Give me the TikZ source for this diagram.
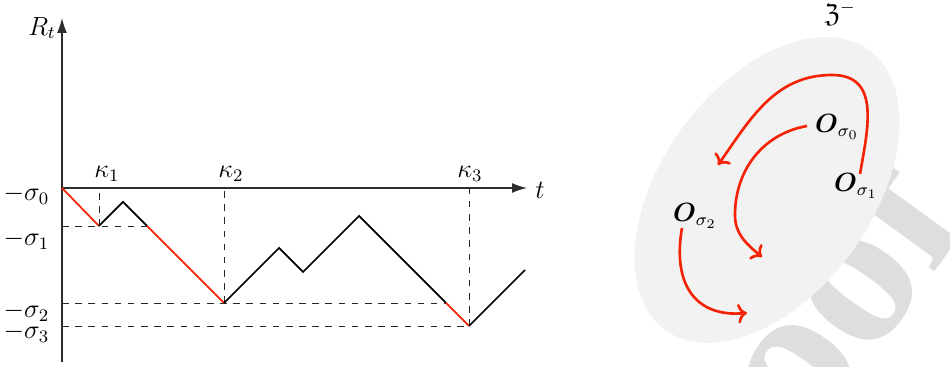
\documentclass[tikz,border=0pt]{standalone}
\usepackage{amsmath,amssymb}
\usepackage{fontspec}
\newfontfamily\markfont{Liberation Serif}
\usepackage{xcolor}
\definecolor{PathRed}{RGB}{245,35,5}
\definecolor{AxisGray}{RGB}{45,45,45}
\usepackage{tikz}
\usetikzlibrary{arrows.meta,positioning,calc}

\begin{document}
\begin{tikzpicture}[
    x=0.016cm,y=0.016cm,font=\large,
    axis/.style={semithick,AxisGray,-{Latex[length=2.4mm,width=1.6mm]}},
    walk/.style={thick,black},
    drop/.style={thick,PathRed},
    guide/.style={thin,dashed,black!85},
    swirl/.style={very thick,PathRed,->},
  ]
    \clip (0,0) rectangle (950,367);
    \node[rotate=54,anchor=base west,text=black!13,font=\markfont\bfseries\fontsize{96}{96}\selectfont] (mark) at (675,-263) {Proof};
    \fill[black!5,rotate around={54:(767,177)}] (767,177) ellipse [x radius=173,y radius=105];

    \coordinate (O) at (62,179);
    \coordinate (ytop) at (62,349);
    \coordinate (ybot) at (62,5);
    \coordinate (xend) at (527,179);
    \coordinate (k1) at (99,141);
    \coordinate (p1) at (123,165);
    \coordinate (c1) at (147,141);
    \coordinate (k2) at (224,64);
    \coordinate (p2) at (279,119);
    \coordinate (v2) at (303,95);
    \coordinate (p3) at (359,151);
    \coordinate (c3) at (446,64);
    \coordinate (k3) at (469,41);
    \coordinate (tail) at (525,97);

    \draw[guide] (k1) -- (k1 |- O);
    \draw[guide] (O |- k1) -- (c1);
    \draw[guide] (k2) -- (k2 |- O);
    \draw[guide] (O |- k2) -- (c3);
    \draw[guide] (k3) -- (k3 |- O);
    \draw[guide] (O |- k3) -- (k3);

    \draw[axis] (ybot) -- (ytop);
    \draw[axis] (O) -- (xend);

    \draw[drop] (O) -- (k1);
    \draw[walk] (k1) -- (p1) -- (c1);
    \draw[drop] (c1) -- (k2);
    \draw[walk] (k2) -- (p2) -- (v2) -- (p3) -- (c3);
    \draw[drop] (c3) -- (k3);
    \draw[walk] (k3) -- (tail);

    \node (Rt) at (42,339) {$R_t$};
    \node (tlab) at (540,177) {$t$};
    \node (kap1) at (107,193) {$\kappa_1$};
    \node (kap2) at (231,193) {$\kappa_2$};
    \node (kap3) at (470,193) {$\kappa_3$};
    \node[anchor=east] (sig0) at (57,172) {$-\sigma_0$};
    \node[anchor=east] (sig1) at (57,127) {$-\sigma_1$};
    \node[anchor=east] (sig2) at (57,55) {$-\sigma_2$};
    \node[anchor=east] (sig3) at (57,34) {$-\sigma_3$};

    \node (zlab) at (840,353) {$\mathfrak{Z}^-$};
    \node (o0) at (837,240) {$\boldsymbol{O}_{\sigma_0}$};
    \node (o1) at (856,181) {$\boldsymbol{O}_{\sigma_1}$};
    \node (o2) at (695,151) {$\boldsymbol{O}_{\sigma_2}$};

    \coordinate (a1s) at (860,193);
    \coordinate (a1t) at (832,292);
    \coordinate (a1e) at (718,202);
    \coordinate (a2s) at (807,241);
    \coordinate (a2t) at (735,152);
    \coordinate (a2e) at (762,110);
    \coordinate (a3s) at (682,139);
    \coordinate (a3e) at (747,54);
    \draw[swirl] (a1s) to[out=80,in=0,looseness=1.2] (a1t) to[out=180,in=55] (a1e);
    \draw[swirl] (a2s) to[out=190,in=90] (a2t) to[out=-90,in=140] (a2e);
    \draw[swirl] (a3s) to[out=-100,in=185,looseness=1.3] (a3e);
  \end{tikzpicture}
\end{document}
